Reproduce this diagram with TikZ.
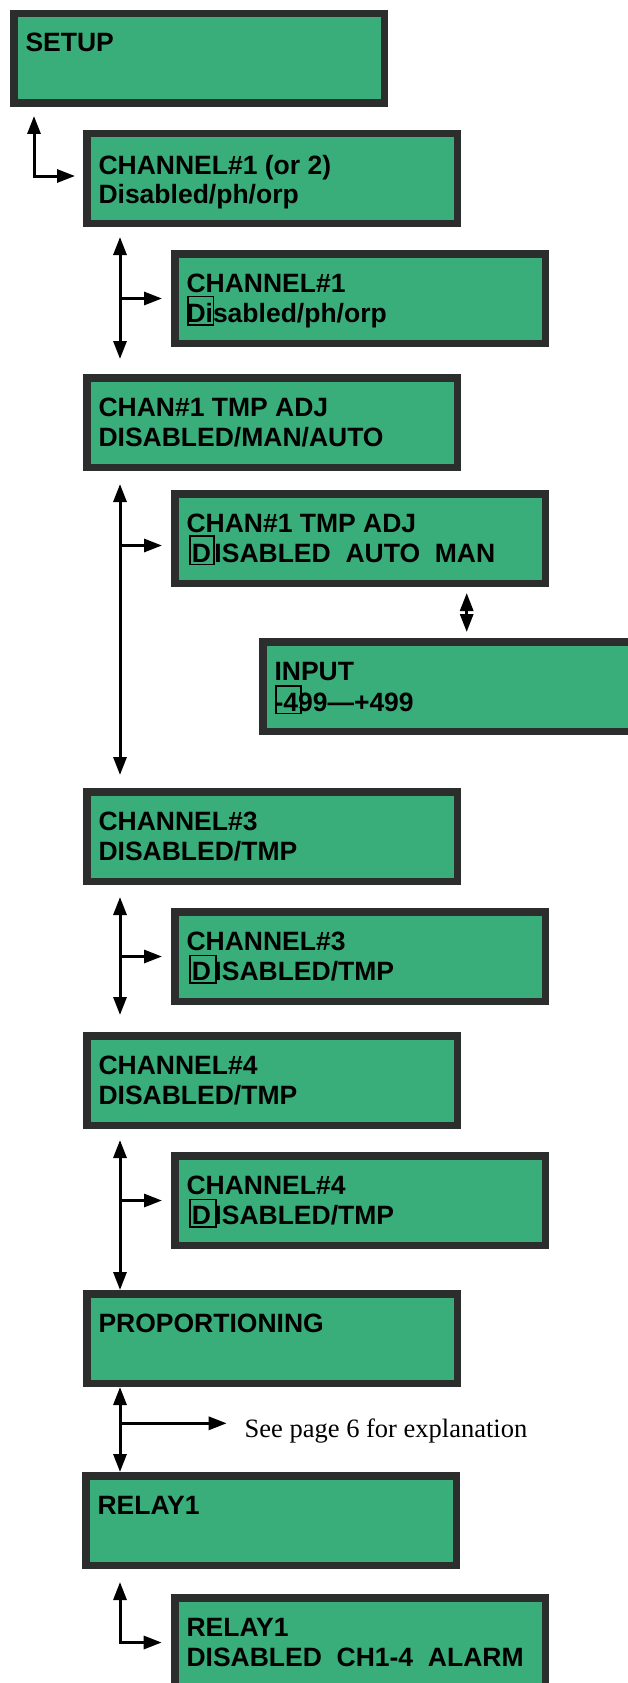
\documentclass[tikz,border=0pt]{standalone}
\usepackage{fontspec}
\setmainfont{Liberation Serif}
\newfontfamily\lcdfont{Liberation Sans}
\usetikzlibrary{arrows.meta}
\definecolor{lcdgreen}{RGB}{57,174,122}
\definecolor{lcdframe}{RGB}{44,46,45}

\begin{document}
\begin{tikzpicture}[x=1pt,y=-1pt,
  lcd/.style={rectangle, fill=lcdgreen, draw=lcdframe, line width=7.5pt,
    minimum width=370.5pt, minimum height=89.5pt, inner sep=0pt},
  row/.style={font=\lcdfont\bfseries\fontsize{26.5}{30}\selectfont,
    inner sep=0pt, outer sep=0pt, anchor=base west, text=black},
  note/.style={font=\fontsize{26.5}{30}\selectfont, inner sep=0pt,
    outer sep=0pt, anchor=base west},
  cursor/.style={draw=black, line width=1.6pt},
  link/.style={line width=3pt,
    {Triangle[length=18pt,width=13pt]}-{Triangle[length=18pt,width=13pt]}},
  tip/.style={line width=3pt, -{Triangle[length=18pt,width=13pt]}}
]
\useasboundingbox (0,0) rectangle (628,1683);
\clip (0,0) rectangle (628,1683);

% ---- LCD screens ----
\node[lcd] (A) at (199,58.5) {};
\node[lcd] (B) at (272,178.5) {};
\node[lcd] (C) at (360,298.5) {};
\node[lcd] (D) at (272,422.5) {};
\node[lcd] (E) at (360,538.5) {};
\node[lcd] (F) at (448,686.5) {};
\node[lcd] (G) at (272,836.5) {};
\node[lcd] (H) at (360,956.5) {};
\node[lcd] (I) at (272,1080.5) {};
\node[lcd] (J) at (360,1200.5) {};
\node[lcd] (K) at (272,1338.5) {};
\node[lcd] (L) at (271,1520.5) {};
\node[lcd] (M) at (360,1642.5) {};

% ---- screen texts ----
\node[row] (A1) at ([xshift=15.5pt,yshift=-42pt]A.north west) {SETUP};
\node[row] (B1) at ([xshift=15.5pt,yshift=-44pt]B.north west) {CHANNEL\#1 (or 2)};
\node[row] (B2) at ([xshift=15.5pt,yshift=-73pt]B.north west) {Disabled/ph/orp};
\node[row] (C1) at ([xshift=15.5pt,yshift=-42pt]C.north west) {CHANNEL\#1};
\node[row] (C2) at ([xshift=15.5pt,yshift=-72pt]C.north west) {Disabled/ph/orp};
\node[row] (D1) at ([xshift=15.5pt,yshift=-42pt]D.north west) {CHAN\#1 TMP ADJ};
\node[row] (D2) at ([xshift=15.5pt,yshift=-72pt]D.north west) {DISABLED/MAN/AUTO};
\node[row] (E1) at ([xshift=15.5pt,yshift=-42pt]E.north west) {CHAN\#1 TMP ADJ};
\node[row] (E2) at ([xshift=15.5pt,yshift=-72pt]E.north west)
  {\kern2pt\makebox[26pt][c]{D}ISABLED\ \ AUTO\ \ MAN};
\node[row] (F1) at ([xshift=15.5pt,yshift=-42pt]F.north west) {INPUT};
\node[row] (F2) at ([xshift=15.5pt,yshift=-73pt]F.north west) {-499—+499};
\node[row] (G1) at ([xshift=15.5pt,yshift=-42pt]G.north west) {CHANNEL\#3};
\node[row] (G2) at ([xshift=15.5pt,yshift=-72pt]G.north west) {DISABLED/TMP};
\node[row] (H1) at ([xshift=15.5pt,yshift=-42pt]H.north west) {CHANNEL\#3};
\node[row] (H2) at ([xshift=15.5pt,yshift=-72pt]H.north west)
  {\kern2pt\makebox[26pt][c]{D}ISABLED/TMP};
\node[row] (I1) at ([xshift=15.5pt,yshift=-42pt]I.north west) {CHANNEL\#4};
\node[row] (I2) at ([xshift=15.5pt,yshift=-72pt]I.north west) {DISABLED/TMP};
\node[row] (J1) at ([xshift=15.5pt,yshift=-42pt]J.north west) {CHANNEL\#4};
\node[row] (J2) at ([xshift=15.5pt,yshift=-72pt]J.north west)
  {\kern2pt\makebox[26pt][c]{D}ISABLED/TMP};
\node[row] (K1) at ([xshift=15.5pt,yshift=-42pt]K.north west) {PROPORTIONING};
\node[row] (L1) at ([xshift=15.5pt,yshift=-42pt]L.north west) {RELAY1};
\node[row] (M1) at ([xshift=15.5pt,yshift=-42pt]M.north west) {RELAY1};
\node[row] (M2) at ([xshift=15.5pt,yshift=-72pt]M.north west)
  {DISABLED\ \ CH1-4\ \ ALARM};

% ---- cursor frames around the selected character ----
\draw[cursor] ([xshift=1.5pt,yshift=-3pt]C2.base west) rectangle ([xshift=27pt,yshift=25.5pt]C2.base west);
\draw[cursor] ([xshift=3.3pt,yshift=-2.5pt]E2.base west) rectangle ([xshift=27.7pt,yshift=25.9pt]E2.base west);
\draw[cursor] ([xshift=1.3pt,yshift=-2.5pt]F2.base west) rectangle ([xshift=26.4pt,yshift=25pt]F2.base west);
\draw[cursor] ([xshift=3.6pt,yshift=-3pt]H2.base west) rectangle ([xshift=29.4pt,yshift=24.5pt]H2.base west);
\draw[cursor] ([xshift=3.6pt,yshift=-3pt]J2.base west) rectangle ([xshift=29.4pt,yshift=24.5pt]J2.base west);

% ---- navigation arrows ----
% SETUP <-> CHANNEL#1 (or 2)
\draw[link] ([xshift=24pt,yshift=-9pt]A.south west) |- ([xshift=-8pt,yshift=2.5pt]B.west);

% CHANNEL#1 (or 2) -> CHAN#1 TMP ADJ, branch to CHANNEL#1
\coordinate (b0) at ([xshift=37pt,yshift=-10pt]B.south west);
\coordinate (b1) at ([xshift=37pt,yshift=15pt]D.north west);
\draw[link] (b0) -- (b1);
\draw[tip] (b0 |- C.west) -- ([xshift=-9pt]C.west);

% CHAN#1 TMP ADJ -> CHANNEL#3, branch to CHAN#1 TMP ADJ select
\coordinate (d0) at ([xshift=37pt,yshift=-13pt]D.south west);
\coordinate (d1) at ([xshift=37pt,yshift=13pt]G.north west);
\coordinate (ew) at ([xshift=-9pt,yshift=-7pt]E.west);
\draw[link] (d0) -- (d1);
\draw[tip] (d0 |- ew) -- (ew);

% CHAN#1 TMP ADJ select <-> INPUT
\draw[link] ([xshift=295.7pt,yshift=-6pt]E.south west) -- ([xshift=207.7pt,yshift=6pt]F.north west);

% CHANNEL#3 -> CHANNEL#4, branch to CHANNEL#3 select
\coordinate (g0) at ([xshift=37pt,yshift=-12pt]G.south west);
\coordinate (g1) at ([xshift=37pt,yshift=17pt]I.north west);
\draw[link] (g0) -- (g1);
\draw[tip] (g0 |- H.west) -- ([xshift=-9pt]H.west);

% CHANNEL#4 -> PROPORTIONING, branch to CHANNEL#4 select
\coordinate (i0) at ([xshift=37pt,yshift=-11pt]I.south west);
\coordinate (i1) at ([xshift=37pt]K.north west);
\draw[link] (i0) -- (i1);
\draw[tip] (i0 |- J.west) -- ([xshift=-9pt]J.west);

% PROPORTIONING -> RELAY1, branch to the remark
\node[note] (N) at (244.7,1437.3) {See page 6 for explanation};
\coordinate (k0) at ([xshift=37pt]K.south west);
\coordinate (k1) at ([xshift=38pt]L.north west);
\coordinate (nw) at ([xshift=-18pt,yshift=14pt]N.base west);
\draw[link] (k0) -- (k1);
\draw[tip] (k0 |- nw) -- (nw);

% RELAY1 <-> RELAY1 select
\draw[link] ([xshift=38pt,yshift=-13pt]L.south west) |- ([xshift=-9.3pt]M.west);
\end{tikzpicture}
\end{document}
